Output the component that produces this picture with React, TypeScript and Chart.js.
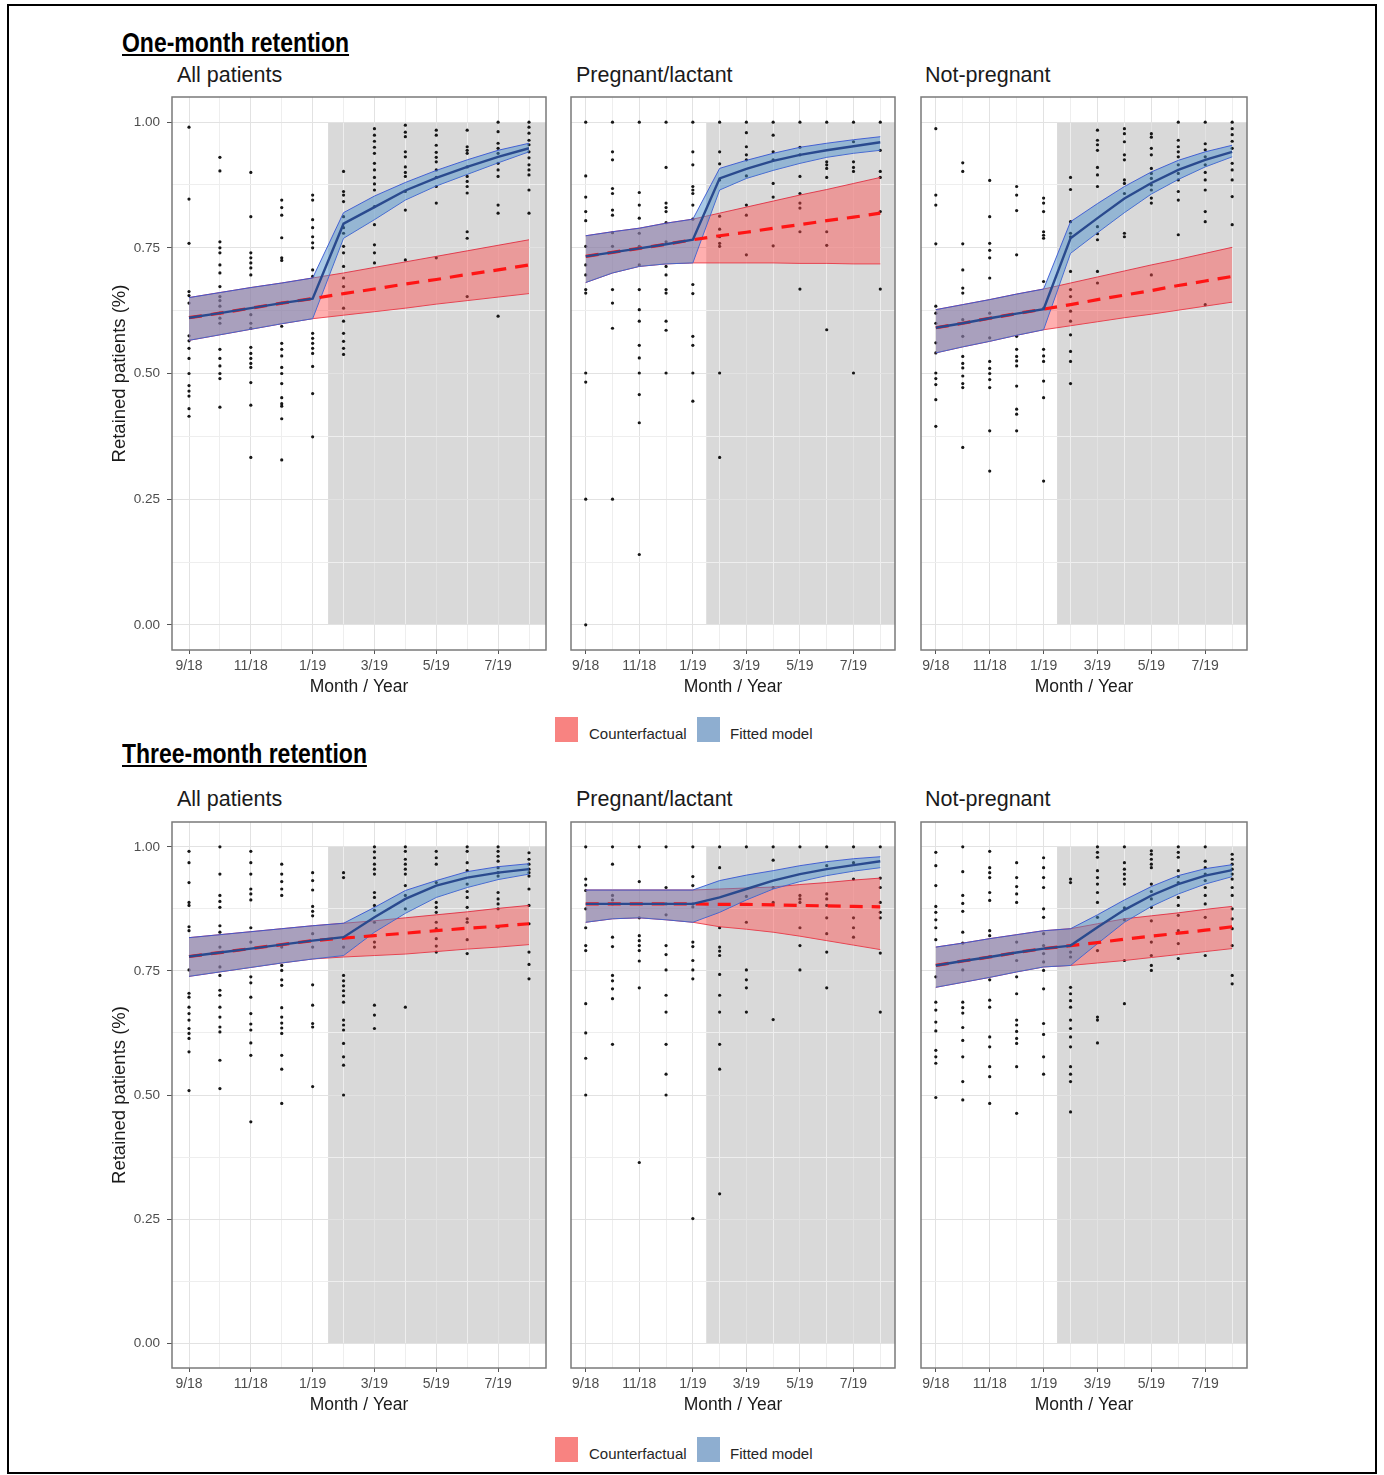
import React, { useEffect, useRef } from 'react';
import { Chart, registerables } from 'chart.js';

Chart.register(...registerables);
Chart.defaults.font.family = '"Liberation Sans", Arial, sans-serif';

// ---------- axis / labels ----------
const MONTH_LABELS = ['9/18', '10/18', '11/18', '12/18', '1/19', '2/19', '3/19', '4/19', '5/19', '6/19', '7/19', '8/19'];
const X_MIN = -0.55;
const X_MAX = 11.55;
const Y_MIN = -0.05;
const Y_MAX = 1.05;
const SHADE_START = 4.5; // intervention period shading (month index)
const SHADE_TOP = 1.0;
const SHADE_BOTTOM = 0.0;
const PANEL_TITLES = ['All patients', 'Pregnant/lactant', 'Not-pregnant'];
const SECTION_TITLES = ['One-month retention', 'Three-month retention'];
const LEGEND_LABELS = ['Counterfactual', 'Fitted model'];

// ---------- One-month retention: All patients ----------
const ONE_ALL_FIT = [0.611, 0.620, 0.630, 0.640, 0.649, 0.798, 0.831, 0.864, 0.889, 0.911, 0.931, 0.948];
const ONE_ALL_FIT_LO = [0.566, 0.577, 0.588, 0.599, 0.609, 0.769, 0.806, 0.845, 0.873, 0.896, 0.919, 0.941];
const ONE_ALL_FIT_HI = [0.651, 0.661, 0.671, 0.680, 0.690, 0.820, 0.853, 0.880, 0.904, 0.925, 0.944, 0.958];
const ONE_ALL_CF = [0.611, 0.620, 0.630, 0.640, 0.649, 0.659, 0.668, 0.678, 0.687, 0.697, 0.706, 0.716];
const ONE_ALL_CF_LO = [0.566, 0.577, 0.588, 0.599, 0.609, 0.616, 0.623, 0.630, 0.638, 0.645, 0.652, 0.659];
const ONE_ALL_CF_HI = [0.651, 0.661, 0.671, 0.680, 0.690, 0.700, 0.711, 0.722, 0.733, 0.744, 0.755, 0.766];
const ONE_ALL_PTS = [
  [0.99, 0.847, 0.759, 0.663, 0.655, 0.64, 0.575, 0.565, 0.55, 0.53, 0.50, 0.476, 0.465, 0.455, 0.43, 0.415],
  [0.93, 0.903, 0.762, 0.75, 0.74, 0.716, 0.70, 0.673, 0.653, 0.645, 0.634, 0.62, 0.61, 0.60, 0.548, 0.53, 0.515, 0.50, 0.49, 0.433],
  [0.90, 0.812, 0.74, 0.73, 0.72, 0.71, 0.696, 0.617, 0.60, 0.59, 0.552, 0.54, 0.53, 0.52, 0.512, 0.482, 0.437, 0.333],
  [0.845, 0.83, 0.815, 0.77, 0.73, 0.725, 0.64, 0.594, 0.56, 0.548, 0.535, 0.512, 0.50, 0.48, 0.452, 0.44, 0.435, 0.41, 0.328],
  [0.855, 0.845, 0.806, 0.79, 0.772, 0.76, 0.75, 0.706, 0.693, 0.58, 0.57, 0.56, 0.55, 0.54, 0.514, 0.46, 0.374],
  [0.902, 0.862, 0.855, 0.842, 0.812, 0.79, 0.779, 0.753, 0.74, 0.713, 0.69, 0.673, 0.63, 0.604, 0.58, 0.564, 0.55, 0.538],
  [0.987, 0.974, 0.962, 0.95, 0.938, 0.918, 0.905, 0.89, 0.877, 0.865, 0.832, 0.796, 0.756, 0.74, 0.72],
  [0.994, 0.98, 0.971, 0.941, 0.931, 0.911, 0.9, 0.892, 0.862, 0.825, 0.726],
  [0.984, 0.974, 0.954, 0.94, 0.93, 0.921, 0.905, 0.89, 0.872, 0.839, 0.73],
  [0.984, 0.951, 0.944, 0.938, 0.911, 0.892, 0.882, 0.872, 0.859, 0.782, 0.769, 0.653],
  [1.0, 0.981, 0.958, 0.948, 0.938, 0.918, 0.905, 0.892, 0.835, 0.819, 0.614],
  [1.0, 0.99, 0.978, 0.964, 0.955, 0.941, 0.929, 0.915, 0.905, 0.895, 0.865, 0.819],
];

// ---------- One-month retention: Pregnant/lactant ----------
const ONE_PREG_FIT = [0.733, 0.741, 0.749, 0.757, 0.766, 0.888, 0.907, 0.923, 0.935, 0.944, 0.952, 0.960];
const ONE_PREG_FIT_LO = [0.681, 0.700, 0.713, 0.718, 0.720, 0.865, 0.888, 0.904, 0.918, 0.930, 0.938, 0.944];
const ONE_PREG_FIT_HI = [0.774, 0.782, 0.789, 0.799, 0.807, 0.908, 0.924, 0.938, 0.950, 0.958, 0.965, 0.971];
const ONE_PREG_CF = [0.733, 0.741, 0.749, 0.757, 0.766, 0.774, 0.781, 0.789, 0.796, 0.804, 0.811, 0.819];
const ONE_PREG_CF_LO = [0.681, 0.700, 0.713, 0.718, 0.720, 0.720, 0.720, 0.720, 0.719, 0.719, 0.718, 0.718];
const ONE_PREG_CF_HI = [0.774, 0.782, 0.789, 0.799, 0.807, 0.819, 0.831, 0.843, 0.855, 0.866, 0.878, 0.890];
const ONE_PREG_PTS = [
  [1.0, 0.893, 0.851, 0.822, 0.804, 0.753, 0.716, 0.696, 0.667, 0.66, 0.501, 0.483, 0.25, 0.0],
  [1.0, 0.941, 0.925, 0.868, 0.858, 0.825, 0.815, 0.78, 0.753, 0.667, 0.64, 0.59, 0.25],
  [1.0, 0.86, 0.835, 0.809, 0.779, 0.753, 0.716, 0.667, 0.627, 0.604, 0.556, 0.531, 0.501, 0.458, 0.402, 0.14],
  [1.0, 0.91, 0.839, 0.83, 0.822, 0.80, 0.762, 0.713, 0.696, 0.667, 0.66, 0.604, 0.586, 0.501],
  [1.0, 0.941, 0.915, 0.872, 0.865, 0.858, 0.835, 0.807, 0.677, 0.659, 0.574, 0.556, 0.501, 0.445],
  [1.0, 0.941, 0.917, 0.885, 0.813, 0.787, 0.772, 0.759, 0.753, 0.501, 0.333],
  [1.0, 0.979, 0.951, 0.935, 0.925, 0.893, 0.835, 0.815, 0.736],
  [1.0, 0.974, 0.941, 0.925, 0.878, 0.851, 0.754],
  [1.0, 0.95, 0.935, 0.892, 0.858, 0.839, 0.829, 0.782, 0.668],
  [1.0, 0.921, 0.915, 0.908, 0.89, 0.782, 0.755, 0.587],
  [1.0, 0.961, 0.921, 0.91, 0.902, 0.501],
  [1.0, 0.944, 0.902, 0.89, 0.822, 0.668],
];

// ---------- One-month retention: Not-pregnant ----------
const ONE_NP_FIT = [0.591, 0.600, 0.610, 0.619, 0.628, 0.769, 0.809, 0.848, 0.879, 0.905, 0.925, 0.941];
const ONE_NP_FIT_LO = [0.541, 0.553, 0.564, 0.576, 0.587, 0.739, 0.780, 0.820, 0.857, 0.886, 0.911, 0.931];
const ONE_NP_FIT_HI = [0.627, 0.637, 0.647, 0.658, 0.668, 0.802, 0.838, 0.872, 0.901, 0.924, 0.941, 0.954];
const ONE_NP_CF = [0.591, 0.600, 0.610, 0.619, 0.628, 0.637, 0.647, 0.656, 0.665, 0.675, 0.684, 0.693];
const ONE_NP_CF_LO = [0.541, 0.553, 0.564, 0.576, 0.587, 0.595, 0.603, 0.611, 0.618, 0.626, 0.634, 0.642];
const ONE_NP_CF_HI = [0.627, 0.637, 0.647, 0.658, 0.668, 0.680, 0.692, 0.704, 0.716, 0.727, 0.739, 0.751];
const ONE_NP_PTS = [
  [0.987, 0.855, 0.835, 0.758, 0.634, 0.62, 0.60, 0.561, 0.541, 0.501, 0.49, 0.478, 0.448, 0.395],
  [0.919, 0.902, 0.758, 0.706, 0.67, 0.66, 0.607, 0.574, 0.534, 0.52, 0.511, 0.495, 0.48, 0.472, 0.353],
  [0.884, 0.812, 0.759, 0.745, 0.73, 0.69, 0.62, 0.571, 0.524, 0.51, 0.5, 0.488, 0.472, 0.386, 0.306],
  [0.872, 0.855, 0.824, 0.736, 0.574, 0.548, 0.534, 0.525, 0.515, 0.475, 0.429, 0.419, 0.386],
  [0.849, 0.839, 0.822, 0.782, 0.775, 0.769, 0.683, 0.63, 0.548, 0.535, 0.524, 0.485, 0.452, 0.286],
  [0.89, 0.866, 0.802, 0.779, 0.772, 0.703, 0.667, 0.653, 0.624, 0.604, 0.577, 0.544, 0.524, 0.48],
  [0.984, 0.964, 0.955, 0.944, 0.91, 0.895, 0.872, 0.792, 0.778, 0.766, 0.703, 0.68],
  [0.987, 0.977, 0.961, 0.935, 0.925, 0.885, 0.878, 0.858, 0.779, 0.772],
  [0.977, 0.97, 0.948, 0.935, 0.908, 0.898, 0.888, 0.875, 0.865, 0.849, 0.839, 0.696],
  [1.0, 0.964, 0.951, 0.941, 0.931, 0.915, 0.898, 0.885, 0.862, 0.845, 0.776],
  [1.0, 0.957, 0.945, 0.931, 0.915, 0.9, 0.885, 0.865, 0.822, 0.802, 0.637],
  [1.0, 0.987, 0.975, 0.962, 0.948, 0.918, 0.905, 0.885, 0.852, 0.796],
];

// ---------- Three-month retention: All patients ----------
const THREE_ALL_FIT = [0.779, 0.787, 0.795, 0.803, 0.811, 0.818, 0.858, 0.895, 0.922, 0.938, 0.948, 0.955];
const THREE_ALL_FIT_LO = [0.739, 0.748, 0.757, 0.766, 0.774, 0.781, 0.828, 0.866, 0.898, 0.918, 0.934, 0.945];
const THREE_ALL_FIT_HI = [0.817, 0.823, 0.829, 0.835, 0.841, 0.846, 0.878, 0.912, 0.932, 0.950, 0.960, 0.966];
const THREE_ALL_CF = [0.779, 0.787, 0.795, 0.803, 0.811, 0.816, 0.821, 0.826, 0.831, 0.836, 0.840, 0.845];
const THREE_ALL_CF_LO = [0.739, 0.748, 0.757, 0.766, 0.774, 0.778, 0.781, 0.784, 0.789, 0.794, 0.798, 0.803];
const THREE_ALL_CF_HI = [0.817, 0.823, 0.829, 0.835, 0.841, 0.846, 0.851, 0.857, 0.863, 0.869, 0.876, 0.882];
const THREE_ALL_PTS = [
  [0.991, 0.968, 0.928, 0.888, 0.882, 0.839, 0.831, 0.752, 0.705, 0.697, 0.677, 0.664, 0.651, 0.634, 0.624, 0.614, 0.587, 0.509],
  [1.0, 0.945, 0.902, 0.89, 0.878, 0.841, 0.828, 0.798, 0.758, 0.741, 0.711, 0.701, 0.677, 0.657, 0.637, 0.627, 0.57, 0.513],
  [0.991, 0.968, 0.945, 0.915, 0.905, 0.893, 0.837, 0.808, 0.738, 0.726, 0.697, 0.664, 0.643, 0.631, 0.605, 0.58, 0.446],
  [0.965, 0.945, 0.93, 0.915, 0.902, 0.798, 0.761, 0.751, 0.732, 0.721, 0.676, 0.657, 0.645, 0.635, 0.624, 0.58, 0.552, 0.483],
  [0.948, 0.932, 0.913, 0.88, 0.87, 0.861, 0.825, 0.798, 0.722, 0.681, 0.644, 0.637, 0.517],
  [0.948, 0.938, 0.798, 0.741, 0.73, 0.72, 0.71, 0.7, 0.687, 0.651, 0.641, 0.631, 0.604, 0.577, 0.56, 0.5],
  [1.0, 0.99, 0.978, 0.965, 0.955, 0.945, 0.908, 0.898, 0.882, 0.872, 0.848, 0.808, 0.798, 0.681, 0.661, 0.634],
  [1.0, 0.991, 0.975, 0.965, 0.955, 0.945, 0.922, 0.902, 0.875, 0.677],
  [0.991, 0.978, 0.965, 0.928, 0.888, 0.878, 0.868, 0.848, 0.835, 0.815, 0.8, 0.788],
  [1.0, 0.991, 0.968, 0.952, 0.925, 0.91, 0.898, 0.878, 0.855, 0.848, 0.813, 0.785],
  [1.0, 0.991, 0.981, 0.971, 0.958, 0.948, 0.941, 0.908, 0.895, 0.885, 0.875, 0.838],
  [0.988, 0.975, 0.965, 0.955, 0.948, 0.941, 0.915, 0.882, 0.845, 0.788, 0.763, 0.734],
];

// ---------- Three-month retention: Pregnant/lactant ----------
const THREE_PREG_FIT = [0.885, 0.885, 0.885, 0.885, 0.885, 0.898, 0.915, 0.932, 0.945, 0.955, 0.963, 0.971];
const THREE_PREG_FIT_LO = [0.848, 0.855, 0.857, 0.853, 0.848, 0.868, 0.893, 0.915, 0.930, 0.942, 0.951, 0.958];
const THREE_PREG_FIT_HI = [0.913, 0.913, 0.913, 0.913, 0.913, 0.932, 0.943, 0.952, 0.962, 0.970, 0.976, 0.980];
const THREE_PREG_CF = [0.885, 0.885, 0.885, 0.885, 0.885, 0.884, 0.884, 0.883, 0.882, 0.881, 0.880, 0.879];
const THREE_PREG_CF_LO = [0.848, 0.855, 0.857, 0.853, 0.848, 0.839, 0.834, 0.828, 0.820, 0.811, 0.802, 0.793];
const THREE_PREG_CF_HI = [0.913, 0.913, 0.913, 0.913, 0.913, 0.915, 0.917, 0.919, 0.924, 0.928, 0.933, 0.937];
const THREE_PREG_PTS = [
  [1.0, 0.935, 0.923, 0.912, 0.875, 0.837, 0.801, 0.791, 0.684, 0.625, 0.574, 0.5],
  [1.0, 0.965, 0.902, 0.893, 0.885, 0.818, 0.799, 0.741, 0.73, 0.714, 0.694, 0.602],
  [1.0, 0.93, 0.857, 0.821, 0.811, 0.801, 0.791, 0.77, 0.716, 0.364],
  [1.0, 0.918, 0.885, 0.863, 0.801, 0.783, 0.752, 0.701, 0.667, 0.602, 0.542, 0.5],
  [1.0, 0.94, 0.922, 0.885, 0.879, 0.808, 0.799, 0.771, 0.752, 0.734, 0.251],
  [1.0, 0.958, 0.837, 0.798, 0.79, 0.781, 0.743, 0.701, 0.667, 0.602, 0.552, 0.301],
  [1.0, 0.9, 0.848, 0.752, 0.732, 0.716, 0.667],
  [1.0, 0.973, 0.918, 0.888, 0.652],
  [1.0, 0.902, 0.895, 0.888, 0.837, 0.801, 0.752],
  [1.0, 0.962, 0.905, 0.895, 0.882, 0.857, 0.825, 0.788, 0.716],
  [1.0, 0.968, 0.935, 0.857, 0.837, 0.818],
  [1.0, 0.937, 0.918, 0.888, 0.868, 0.857, 0.786, 0.667],
];

// ---------- Three-month retention: Not-pregnant ----------
const THREE_NP_FIT = [0.761, 0.770, 0.778, 0.787, 0.795, 0.801, 0.838, 0.873, 0.902, 0.925, 0.942, 0.953];
const THREE_NP_FIT_LO = [0.717, 0.727, 0.737, 0.748, 0.758, 0.761, 0.805, 0.848, 0.880, 0.905, 0.925, 0.940];
const THREE_NP_FIT_HI = [0.798, 0.806, 0.815, 0.823, 0.831, 0.835, 0.863, 0.893, 0.920, 0.942, 0.956, 0.964];
const THREE_NP_CF = [0.761, 0.770, 0.778, 0.787, 0.795, 0.801, 0.807, 0.814, 0.820, 0.826, 0.832, 0.839];
const THREE_NP_CF_LO = [0.717, 0.727, 0.737, 0.748, 0.758, 0.761, 0.766, 0.771, 0.777, 0.783, 0.789, 0.795];
const THREE_NP_CF_HI = [0.798, 0.806, 0.815, 0.823, 0.831, 0.835, 0.845, 0.855, 0.861, 0.867, 0.874, 0.880];
const THREE_NP_PTS = [
  [0.989, 0.962, 0.922, 0.88, 0.868, 0.853, 0.837, 0.813, 0.738, 0.687, 0.671, 0.647, 0.629, 0.59, 0.577, 0.564, 0.495],
  [1.0, 0.95, 0.902, 0.886, 0.87, 0.828, 0.806, 0.752, 0.687, 0.676, 0.665, 0.636, 0.61, 0.577, 0.527, 0.49],
  [0.991, 0.958, 0.948, 0.938, 0.908, 0.892, 0.831, 0.821, 0.779, 0.732, 0.691, 0.677, 0.617, 0.597, 0.557, 0.537, 0.483],
  [0.968, 0.938, 0.92, 0.905, 0.888, 0.808, 0.771, 0.738, 0.704, 0.651, 0.641, 0.628, 0.614, 0.604, 0.557, 0.463],
  [0.978, 0.958, 0.938, 0.918, 0.875, 0.858, 0.825, 0.801, 0.785, 0.768, 0.751, 0.714, 0.644, 0.622, 0.577, 0.542],
  [0.935, 0.928, 0.788, 0.778, 0.717, 0.704, 0.69, 0.677, 0.651, 0.634, 0.617, 0.597, 0.557, 0.542, 0.527, 0.466],
  [1.0, 0.989, 0.979, 0.952, 0.938, 0.925, 0.908, 0.888, 0.858, 0.791, 0.657, 0.651, 0.605],
  [1.0, 0.968, 0.955, 0.945, 0.935, 0.925, 0.877, 0.853, 0.771, 0.684],
  [0.992, 0.985, 0.975, 0.965, 0.958, 0.925, 0.91, 0.895, 0.878, 0.851, 0.808, 0.781, 0.761, 0.751],
  [1.0, 0.989, 0.979, 0.952, 0.94, 0.928, 0.898, 0.882, 0.862, 0.831, 0.805, 0.775],
  [1.0, 0.971, 0.958, 0.945, 0.932, 0.918, 0.902, 0.885, 0.858, 0.781],
  [0.985, 0.975, 0.965, 0.955, 0.945, 0.935, 0.918, 0.902, 0.875, 0.855, 0.835, 0.801, 0.741, 0.724],
];

// ---------- styles ----------
const FONT = '"Liberation Sans", Arial, sans-serif';
const SHADE_COLOR = '#d9d9d9';
const GRID_MAJOR = '#e2e2e2';
const GRID_MINOR = '#eeeeee';
const PANEL_BORDER = '#7a7a7a';
const TICK_COLOR = '#555555';
const TICK_TEXT = '#4d4d4d';
const RED_FILL = 'rgba(255,77,77,0.45)';
const RED_EDGE = 'rgba(225,40,60,0.85)';
const BLUE_FILL = 'rgba(75,145,205,0.48)';
const BLUE_EDGE = 'rgba(55,85,210,0.9)';
const CF_LINE = '#ff1414';
const FIT_LINE = '#2a4a8e';
const POINT_COLOR = '#161616';
const LEGEND_RED = '#f88381';
const LEGEND_BLUE = '#8eaed0';

const isMajorY = (v: number) => Math.abs(v * 4 - Math.round(v * 4)) < 1e-9;
const isMajorX = (v: number) => Math.abs(v - Math.round(v)) < 1e-9 && Math.round(v) % 2 === 0;

const panelDecor = {
  id: 'panelDecor',
  beforeDraw(chart: any) {
    const { ctx, chartArea, scales } = chart;
    const x0 = scales.x.getPixelForValue(SHADE_START);
    const y0 = scales.y.getPixelForValue(SHADE_TOP);
    const y1 = scales.y.getPixelForValue(SHADE_BOTTOM);
    ctx.save();
    ctx.fillStyle = SHADE_COLOR;
    ctx.fillRect(x0, y0, chartArea.right - x0, y1 - y0);
    ctx.restore();
  },
  afterDatasetsDraw(chart: any) {
    const { ctx, chartArea } = chart;
    ctx.save();
    ctx.strokeStyle = PANEL_BORDER;
    ctx.lineWidth = 1.5;
    ctx.strokeRect(chartArea.left, chartArea.top, chartArea.right - chartArea.left, chartArea.bottom - chartArea.top);
    ctx.restore();
  },
};

type Series = {
  fit: number[]; fitLo: number[]; fitHi: number[];
  cf: number[]; cfLo: number[]; cfHi: number[];
  pts: number[][];
};

type Box = { left: number; top: number; width: number; height: number; yAxisW: number; showY: boolean };

const toXY = (arr: number[]) => arr.map((y, i) => ({ x: i, y }));

function Panel({ series, box }: { series: Series; box: Box }) {
  const ref = useRef<HTMLCanvasElement | null>(null);
  useEffect(() => {
    const canvas = ref.current;
    if (!canvas) return;
    const points = series.pts.flatMap((col, i) => col.map((y) => ({ x: i, y })));
    const lineBase = { pointRadius: 0, pointHoverRadius: 0, tension: 0 };
    const chart = new Chart(canvas, {
      type: 'line',
      data: {
        datasets: [
          { type: 'scatter', data: points, pointRadius: 1.6, pointHoverRadius: 0, backgroundColor: POINT_COLOR, borderWidth: 0, order: 10 } as any,
          { ...lineBase, data: toXY(series.cfLo), borderColor: RED_EDGE, borderWidth: 1, fill: false, order: 9 },
          { ...lineBase, data: toXY(series.cfHi), borderColor: RED_EDGE, borderWidth: 1, fill: '-1', backgroundColor: RED_FILL, order: 8 },
          { ...lineBase, data: toXY(series.fitLo), borderColor: BLUE_EDGE, borderWidth: 1, fill: false, order: 7 },
          { ...lineBase, data: toXY(series.fitHi), borderColor: BLUE_EDGE, borderWidth: 1, fill: '-1', backgroundColor: BLUE_FILL, order: 6 },
          { ...lineBase, data: toXY(series.cf), borderColor: CF_LINE, borderWidth: 3.2, borderDash: [13, 9], fill: false, order: 5 },
          { ...lineBase, data: toXY(series.fit), borderColor: FIT_LINE, borderWidth: 2.4, fill: false, order: 4 },
        ],
      },
      options: {
        responsive: false,
        maintainAspectRatio: false,
        animation: false,
        devicePixelRatio: 1,
        layout: { padding: { top: 16, right: 6, left: 0, bottom: 0 } },
        plugins: { legend: { display: false }, tooltip: { enabled: false } },
        events: [],
        scales: {
          x: {
            type: 'linear',
            min: X_MIN,
            max: X_MAX,
            afterFit: (s: any) => { s.height = 48; },
            border: { display: false },
            grid: {
              color: (c: any) => (c.tick && isMajorX(c.tick.value) ? GRID_MAJOR : GRID_MINOR),
              lineWidth: 1,
              tickLength: 4,
              tickColor: (c: any) => (c.tick && isMajorX(c.tick.value) ? TICK_COLOR : 'rgba(0,0,0,0)'),
            },
            ticks: {
              stepSize: 1,
              includeBounds: false,
              autoSkip: false,
              maxRotation: 0,
              padding: 4,
              color: TICK_TEXT,
              font: { size: 14, family: FONT },
              callback: (v: any) => (isMajorX(Number(v)) ? MONTH_LABELS[Math.round(Number(v))] : ''),
            },
            title: { display: true, text: 'Month / Year', color: '#1a1a1a', font: { size: 17.5, family: FONT }, padding: 0 },
          },
          y: {
            type: 'linear',
            min: Y_MIN,
            max: Y_MAX,
            afterFit: (s: any) => { s.width = box.yAxisW; },
            border: { display: false },
            grid: {
              color: (c: any) => (c.tick && isMajorY(c.tick.value) ? GRID_MAJOR : GRID_MINOR),
              lineWidth: 1,
              drawTicks: box.showY,
              tickLength: 5,
              tickColor: (c: any) => (c.tick && isMajorY(c.tick.value) ? TICK_COLOR : 'rgba(0,0,0,0)'),
            },
            ticks: {
              display: box.showY,
              stepSize: 0.125,
              includeBounds: false,
              autoSkip: false,
              padding: 7,
              color: TICK_TEXT,
              font: { size: 13.5, family: FONT },
              callback: (v: any) => (isMajorY(Number(v)) ? Number(v).toFixed(2) : ''),
            },
            title: { display: box.showY, text: 'Retained patients (%)', color: '#1a1a1a', font: { size: 18.5, family: FONT }, padding: 0 },
          },
        },
      } as any,
      plugins: [panelDecor],
    });
    return () => chart.destroy();
  }, []);
  return (
    <canvas
      ref={ref}
      width={box.width}
      height={box.height}
      style={{ position: 'absolute', left: box.left, top: box.top, width: box.width, height: box.height }}
    />
  );
}

const COLS = [
  { left: 109, width: 443, yAxisW: 63, showY: true, titleX: 177 },
  { left: 561, width: 340, yAxisW: 10, showY: false, titleX: 576 },
  { left: 911, width: 342, yAxisW: 10, showY: false, titleX: 925 },
];

const ROWS = [
  {
    canvasTop: 81, canvasH: 617, sectionTop: 29, panelTitleTop: 64, legendTop: 717,
    series: [
      { fit: ONE_ALL_FIT, fitLo: ONE_ALL_FIT_LO, fitHi: ONE_ALL_FIT_HI, cf: ONE_ALL_CF, cfLo: ONE_ALL_CF_LO, cfHi: ONE_ALL_CF_HI, pts: ONE_ALL_PTS },
      { fit: ONE_PREG_FIT, fitLo: ONE_PREG_FIT_LO, fitHi: ONE_PREG_FIT_HI, cf: ONE_PREG_CF, cfLo: ONE_PREG_CF_LO, cfHi: ONE_PREG_CF_HI, pts: ONE_PREG_PTS },
      { fit: ONE_NP_FIT, fitLo: ONE_NP_FIT_LO, fitHi: ONE_NP_FIT_HI, cf: ONE_NP_CF, cfLo: ONE_NP_CF_LO, cfHi: ONE_NP_CF_HI, pts: ONE_NP_PTS },
    ],
  },
  {
    canvasTop: 806, canvasH: 610, sectionTop: 740, panelTitleTop: 788, legendTop: 1437,
    series: [
      { fit: THREE_ALL_FIT, fitLo: THREE_ALL_FIT_LO, fitHi: THREE_ALL_FIT_HI, cf: THREE_ALL_CF, cfLo: THREE_ALL_CF_LO, cfHi: THREE_ALL_CF_HI, pts: THREE_ALL_PTS },
      { fit: THREE_PREG_FIT, fitLo: THREE_PREG_FIT_LO, fitHi: THREE_PREG_FIT_HI, cf: THREE_PREG_CF, cfLo: THREE_PREG_CF_LO, cfHi: THREE_PREG_CF_HI, pts: THREE_PREG_PTS },
      { fit: THREE_NP_FIT, fitLo: THREE_NP_FIT_LO, fitHi: THREE_NP_FIT_HI, cf: THREE_NP_CF, cfLo: THREE_NP_CF_LO, cfHi: THREE_NP_CF_HI, pts: THREE_NP_PTS },
    ],
  },
];

function Legend({ top }: { top: number }) {
  const text: React.CSSProperties = { position: 'absolute', top: top + 4, height: 25, lineHeight: '25px', fontSize: 15, color: '#262626', whiteSpace: 'nowrap' };
  return (
    <>
      <div style={{ position: 'absolute', left: 555, top, width: 23, height: 25, background: LEGEND_RED }} />
      <div style={{ ...text, left: 589 }}>{LEGEND_LABELS[0]}</div>
      <div style={{ position: 'absolute', left: 697, top, width: 23, height: 25, background: LEGEND_BLUE }} />
      <div style={{ ...text, left: 730 }}>{LEGEND_LABELS[1]}</div>
    </>
  );
}

export default function App() {
  return (
    <div style={{ position: 'absolute', left: 0, top: 0, width: 1384, height: 1475, background: '#ffffff', overflow: 'hidden', fontFamily: FONT }}>
      <div style={{ position: 'absolute', left: 7, top: 4, width: 1370, height: 1470, border: '2px solid #000', boxSizing: 'border-box' }} />
      {ROWS.map((row, r) => (
        <React.Fragment key={r}>
          <div
            style={{
              position: 'absolute', left: 122, top: row.sectionTop, fontSize: 28, lineHeight: '28px', fontWeight: 'bold',
              textDecoration: 'underline', textDecorationThickness: '2px', textUnderlineOffset: '2px', color: '#000',
              whiteSpace: 'nowrap', transform: 'scaleX(0.82)', transformOrigin: 'left center',
            }}
          >
            {SECTION_TITLES[r]}
          </div>
          {COLS.map((col, c) => (
            <React.Fragment key={c}>
              <div style={{ position: 'absolute', left: col.titleX, top: row.panelTitleTop, fontSize: 21.5, lineHeight: '22px', color: '#1a1a1a', whiteSpace: 'nowrap' }}>
                {PANEL_TITLES[c]}
              </div>
              <Panel
                series={row.series[c]}
                box={{ left: col.left, top: row.canvasTop, width: col.width, height: row.canvasH, yAxisW: col.yAxisW, showY: col.showY }}
              />
            </React.Fragment>
          ))}
          <Legend top={row.legendTop} />
        </React.Fragment>
      ))}
    </div>
  );
}
